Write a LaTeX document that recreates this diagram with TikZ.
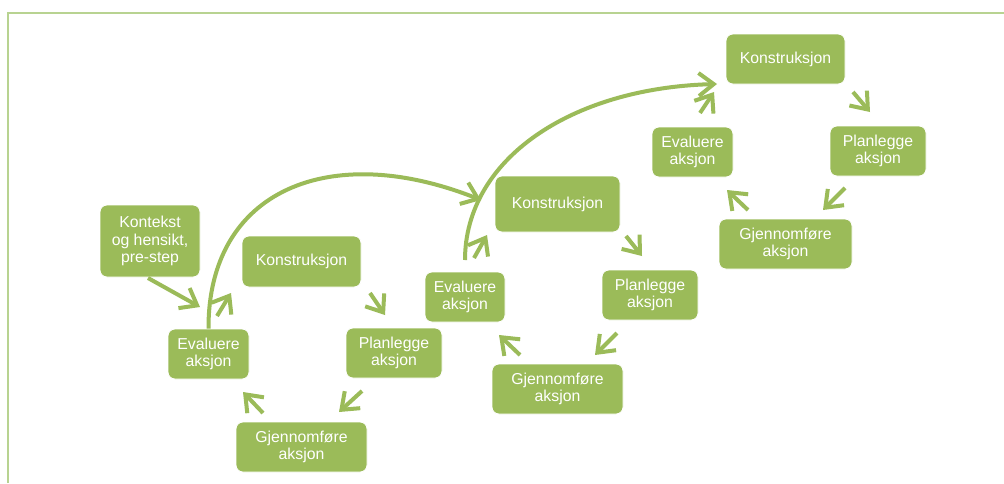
\documentclass[tikz,border=0pt]{standalone}
\usepackage{fontspec}
\setmainfont{Liberation Sans}
\usetikzlibrary{arrows.meta}
\definecolor{boxgreen}{RGB}{155,187,89}
\definecolor{framegreen}{RGB}{184,211,145}
\begin{document}
\begin{tikzpicture}[x=1pt,y=-1pt,
  box/.style={draw=white, line width=0.8pt, fill=boxgreen, rounded corners=7pt,
    text=white, font=\fontsize{15.8}{17.5}\selectfont, align=center, inner sep=0pt},
  cyc/.style={draw=boxgreen, line width=4pt, -{Straight Barb[length=15pt,width=23pt]}},
  ]
\useasboundingbox (0,0) rectangle (1004,483);
\fill[white] (0,0) rectangle (1004,483);
\draw[framegreen, line width=1.5pt] (8,483) -- (8,13) -- (1004,13);

% cycle 1
\node[box, minimum width=100pt, minimum height=72pt] (k0) at (150,241) {Kontekst\\og hensikt,\\pre-step};
\node[box, minimum width=81pt, minimum height=50pt] (e1) at (208.5,354) {Evaluere\\aksjon};
\node[box, minimum width=119pt, minimum height=51pt] (k1) at (301.5,261.5) {Konstruksjon};
\node[box, minimum width=96pt, minimum height=50pt] (p1) at (394,353) {Planlegge\\aksjon};
\node[box, minimum width=131pt, minimum height=50pt] (g1) at (301.5,447) {Gjennomføre\\aksjon};
% cycle 2
\node[box, minimum width=80pt, minimum height=50pt] (e2) at (465,297) {Evaluere\\aksjon};
\node[box, minimum width=125pt, minimum height=56pt] (k2) at (557.5,204) {Konstruksjon};
\node[box, minimum width=96pt, minimum height=50pt] (p2) at (650,295) {Planlegge\\aksjon};
\node[box, minimum width=131pt, minimum height=50pt] (g2) at (557.5,389) {Gjennomføre\\aksjon};
% cycle 3
\node[box, minimum width=119pt, minimum height=50pt] (k3) at (785.5,59) {Konstruksjon};
\node[box, minimum width=81pt, minimum height=50pt] (e3) at (692.5,152) {Evaluere\\aksjon};
\node[box, minimum width=96pt, minimum height=50pt] (p3) at (878,151) {Planlegge\\aksjon};
\node[box, minimum width=133pt, minimum height=50pt] (g3) at (785.5,244) {Gjennomføre\\aksjon};

% arrow end points
\coordinate (k0a) at (148,278); \coordinate (e1b) at (200,307);
\coordinate (e1a) at (217,316); \coordinate (k1b) at (231,293);
\coordinate (k1a) at (370,293); \coordinate (p1b) at (385,315);
\coordinate (p1a) at (362,391); \coordinate (g1b) at (339,412);
\coordinate (g1a) at (263,413); \coordinate (e1c) at (243,392);

\coordinate (e2a) at (474,258); \coordinate (k2b) at (487,235);
\coordinate (k2a) at (626,236); \coordinate (p2b) at (642,256);
\coordinate (p2a) at (617,333); \coordinate (g2b) at (595,355);
\coordinate (g2a) at (520,355); \coordinate (e2c) at (499,335);

\coordinate (e3a) at (700,113); \coordinate (k3b) at (714,92);
\coordinate (k3a) at (853,92);  \coordinate (p3b) at (870,112);
\coordinate (p3a) at (845,188); \coordinate (g3b) at (823,210);
\coordinate (g3a) at (748,210); \coordinate (e3c) at (727,190);

\coordinate (arc1e) at (481,200);
\coordinate (arc2s) at (465,260);
\coordinate (arc2e) at (717,84);

\draw[cyc] (k0a) -- (e1b);
\draw[cyc] (e1a) -- (k1b);
\draw[cyc] (k1a) -- (p1b);
\draw[cyc] (p1a) -- (g1b);
\draw[cyc] (g1a) -- (e1c);

\draw[cyc] (e2a) -- (k2b);
\draw[cyc] (k2a) -- (p2b);
\draw[cyc] (p2a) -- (g2b);
\draw[cyc] (g2a) -- (e2c);

\draw[cyc] (e3a) -- (k3b);
\draw[cyc] (k3a) -- (p3b);
\draw[cyc] (p3a) -- (g3b);
\draw[cyc] (g3a) -- (e3c);

\draw[cyc] (e1.north) .. controls (208,190) and (330,140) .. (arc1e);
\draw[cyc] (arc2s) .. controls (465,160) and (570,88) .. (arc2e);
\end{tikzpicture}
\end{document}
